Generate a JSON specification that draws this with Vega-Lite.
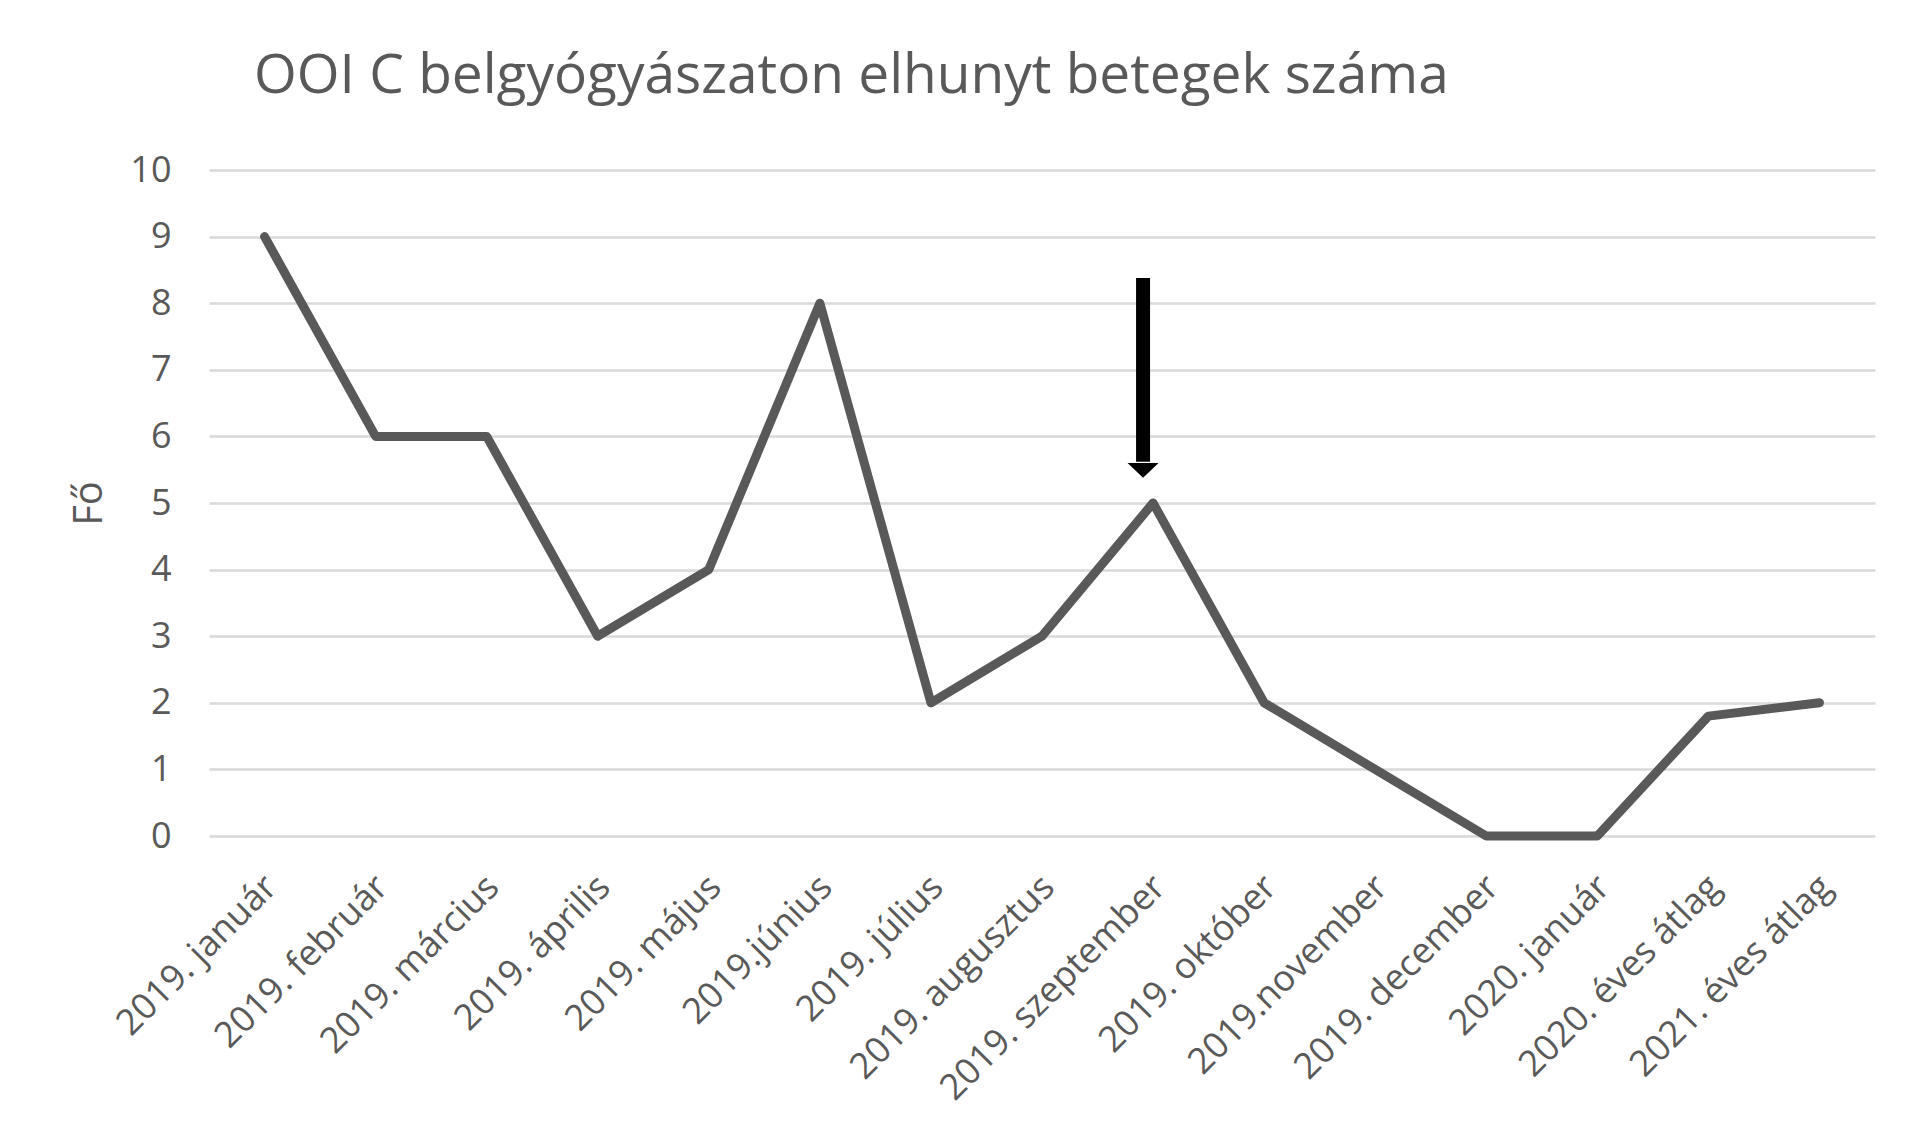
{
  "$schema": "https://vega.github.io/schema/vega-lite/v6.json",
  "autosize": {"type": "none"},
  "width": 1666,
  "height": 666,
  "padding": {"left": 209, "top": 170, "right": 52, "bottom": 308},
  "background": "#ffffff",
  "title": {
    "text": "OOI C belgyógyászaton elhunyt betegek száma",
    "anchor": "start",
    "frame": "group",
    "dx": 45,
    "offset": 47,
    "font": "Open Sans",
    "fontSize": 55,
    "fontWeight": "normal",
    "color": "#595959"
  },
  "config": {
    "view": {"stroke": null},
    "font": "Open Sans"
  },
  "datasets": {
    "main": [
      {"honap": "2019. január", "fo": 9},
      {"honap": "2019. február", "fo": 6},
      {"honap": "2019. március", "fo": 6},
      {"honap": "2019. április", "fo": 3},
      {"honap": "2019. május", "fo": 4},
      {"honap": "2019.június", "fo": 8},
      {"honap": "2019. július", "fo": 2},
      {"honap": "2019. augusztus", "fo": 3},
      {"honap": "2019. szeptember", "fo": 5},
      {"honap": "2019. október", "fo": 2},
      {"honap": "2019.november", "fo": 1},
      {"honap": "2019. december", "fo": 0},
      {"honap": "2020. január", "fo": 0},
      {"honap": "2020. éves átlag", "fo": 1.8},
      {"honap": "2021. éves átlag", "fo": 2}
    ],
    "arrow": [
      {"honap": "2019. szeptember", "top": 8.38, "bottom": 5.62, "head": 5.49}
    ]
  },
  "layer": [
    {
      "data": {"name": "main"},
      "mark": {"type": "line", "color": "#595959", "strokeWidth": 9, "strokeCap": "round", "strokeJoin": "round"},
      "encoding": {
        "x": {
          "field": "honap",
          "type": "nominal",
          "sort": null,
          "scale": {"type": "point", "padding": 0.5},
          "axis": {
            "title": null,
            "domain": false,
            "ticks": false,
            "grid": false,
            "labelAngle": -45,
            "labelAlign": "right",
            "labelBaseline": "top",
            "labelPadding": 33,
            "labelOffset": -6,
            "labelFont": "Open Sans",
            "labelFontSize": 36,
            "labelColor": "#595959",
            "labelOverlap": false,
            "labelLimit": 0
          }
        },
        "y": {
          "field": "fo",
          "type": "quantitative",
          "scale": {"domain": [0, 10], "nice": false, "zero": true},
          "axis": {
            "title": "Fő",
            "titleFont": "Open Sans",
            "titleFontSize": 40,
            "titleFontWeight": "normal",
            "titleColor": "#595959",
            "titlePadding": 20,
            "values": [0, 1, 2, 3, 4, 5, 6, 7, 8, 9, 10],
            "format": "d",
            "domain": false,
            "ticks": false,
            "grid": true,
            "gridColor": "#d9d9d9",
            "gridWidth": 2.5,
            "labelPadding": 38,
            "labelFont": "Open Sans",
            "labelFontSize": 36,
            "labelColor": "#595959"
          }
        }
      }
    },
    {
      "data": {"name": "arrow"},
      "mark": {"type": "rule", "color": "#000000", "strokeWidth": 14, "xOffset": -10},
      "encoding": {
        "x": {"field": "honap", "type": "nominal", "sort": null},
        "y": {"field": "top", "type": "quantitative"},
        "y2": {"field": "bottom"}
      }
    },
    {
      "data": {"name": "arrow"},
      "mark": {"type": "point", "shape": "M-1,-0.48L1,-0.48L0,0.48Z", "filled": true, "color": "#000000", "opacity": 1, "size": 961, "xOffset": -10},
      "encoding": {
        "x": {"field": "honap", "type": "nominal", "sort": null},
        "y": {"field": "head", "type": "quantitative"}
      }
    }
  ]
}
